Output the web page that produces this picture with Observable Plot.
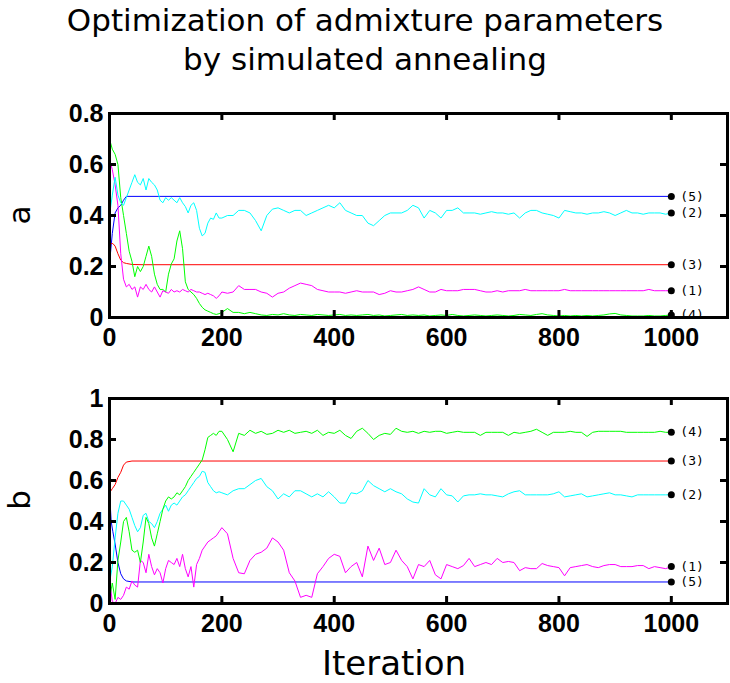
<!DOCTYPE html>
<html>
<head>
<meta charset="utf-8">
<script src="https://cdn.jsdelivr.net/npm/d3@7"></script>
<script src="https://cdn.jsdelivr.net/npm/@observablehq/plot@0.6"></script>
<style>
  html, body { margin: 0; padding: 0; background: #fff; }
  body { width: 730px; height: 683px; position: relative; overflow: hidden; }
  #title { position: absolute; left: 0; top: 1px; width: 730px; text-align: center;
           font-family: "DejaVu Sans", sans-serif; font-size: 31px; line-height: 39px; color: #000; }
  .panel { position: absolute; left: 0; }
  .ylab { position: absolute; font-family: "DejaVu Sans", sans-serif; font-size: 31px; line-height: 36px;
          transform: translate(-50%, -50%) rotate(-90deg); color: #000; white-space: nowrap; }
  #xlab { position: absolute; left: 394px; top: 646px; transform: translateX(-50%); white-space: nowrap;
          font-family: "DejaVu Sans", sans-serif; font-size: 34px; line-height: 34px; color: #000; }
</style>
</head>
<body>
<div id="title">Optimization of admixture parameters<br>by simulated annealing</div>
<div id="pa" class="panel" style="top:80px"></div>
<div id="pb" class="panel" style="top:360px"></div>
<div class="ylab" style="left:18.5px; top:215px">a</div>
<div class="ylab" style="left:18.5px; top:500px">b</div>
<div id="xlab">Iteration</div>
<script>
// ---- iterations sampled for the noisy traces ----
const iter = [
  0,5,10,15,20,25,30,35,40,45,
  50,55,60,65,70,75,80,85,90,95,
  100,105,110,115,120,125,130,135,140,145,
  150,155,160,165,170,175,180,185,190,195,
  200,210,220,230,240,250,260,270,280,290,
  300,310,320,330,340,350,360,370,380,390,
  400,410,420,430,440,450,460,470,480,490,
  500,510,520,530,540,550,560,570,580,590,
  600,610,620,630,640,650,660,670,680,690,
  700,710,720,730,740,750,760,770,780,790,
  800,810,820,830,840,850,860,870,880,890,
  900,910,920,930,940,950,960,970,980,990,
  1000
];

// ---- panel a ----
const a1 = [ // magenta (1)
  0.62,0.58,0.52,0.44,0.25,0.15,0.12,0.13,0.11,0.12,
  0.08,0.12,0.11,0.13,0.11,0.10,0.12,0.10,0.08,0.105,
  0.10,0.095,0.11,0.10,0.105,0.10,0.11,0.105,0.10,0.11,
  0.105,0.10,0.10,0.095,0.09,0.095,0.09,0.085,0.075,0.085,
  0.10,0.095,0.10,0.125,0.11,0.11,0.11,0.10,0.095,0.08,
  0.095,0.10,0.115,0.125,0.135,0.13,0.125,0.11,0.105,0.10,
  0.10,0.10,0.095,0.10,0.105,0.10,0.10,0.10,0.09,0.095,
  0.105,0.10,0.10,0.105,0.11,0.12,0.11,0.10,0.10,0.11,
  0.105,0.105,0.105,0.11,0.11,0.11,0.105,0.10,0.10,0.105,
  0.10,0.105,0.105,0.105,0.11,0.105,0.105,0.105,0.105,0.105,
  0.105,0.11,0.105,0.105,0.105,0.105,0.105,0.105,0.105,0.105,
  0.105,0.105,0.105,0.105,0.105,0.105,0.11,0.105,0.105,0.105,
  0.105
];
const a2 = [ // cyan (2)
  0.40,0.48,0.55,0.48,0.45,0.44,0.47,0.50,0.53,0.56,
  0.53,0.52,0.545,0.50,0.545,0.53,0.52,0.50,0.46,0.45,
  0.47,0.46,0.47,0.46,0.45,0.47,0.45,0.435,0.41,0.44,
  0.45,0.42,0.35,0.32,0.33,0.37,0.39,0.385,0.41,0.39,
  0.39,0.40,0.40,0.42,0.42,0.41,0.38,0.34,0.40,0.425,
  0.43,0.42,0.41,0.42,0.42,0.40,0.41,0.42,0.43,0.44,
  0.43,0.45,0.42,0.41,0.40,0.40,0.37,0.36,0.38,0.40,
  0.41,0.41,0.41,0.42,0.44,0.43,0.39,0.42,0.41,0.39,
  0.42,0.42,0.43,0.41,0.41,0.41,0.405,0.41,0.415,0.41,
  0.41,0.405,0.41,0.39,0.41,0.42,0.42,0.41,0.405,0.40,
  0.39,0.42,0.415,0.41,0.41,0.405,0.41,0.41,0.415,0.41,
  0.40,0.41,0.42,0.41,0.41,0.405,0.41,0.41,0.41,0.405,
  0.41
];
const a4 = [ // green (4)
  0.70,0.66,0.64,0.60,0.47,0.40,0.33,0.26,0.22,0.16,
  0.20,0.18,0.20,0.24,0.28,0.24,0.17,0.13,0.11,0.11,
  0.10,0.17,0.21,0.23,0.30,0.34,0.27,0.14,0.11,0.10,
  0.09,0.075,0.055,0.04,0.03,0.025,0.02,0.015,0.012,0.015,
  0.02,0.035,0.02,0.02,0.015,0.02,0.015,0.01,0.008,0.012,
  0.01,0.015,0.01,0.008,0.012,0.01,0.008,0.012,0.01,0.008,
  0.01,0.012,0.008,0.01,0.008,0.01,0.012,0.008,0.01,0.006,
  0.008,0.01,0.012,0.008,0.01,0.008,0.01,0.006,0.008,0.01,
  0.008,0.012,0.008,0.006,0.008,0.01,0.008,0.006,0.008,0.01,
  0.008,0.006,0.008,0.012,0.01,0.008,0.012,0.015,0.01,0.008,
  0.006,0.008,0.006,0.008,0.006,0.008,0.006,0.008,0.01,0.014,
  0.016,0.01,0.008,0.006,0.006,0.006,0.008,0.006,0.006,0.008,
  0.01
];
const a3Iter = [0,3,6,10,15,20,25,30,40,60,1000];          // red (3)
const a3 = [0.28,0.29,0.29,0.28,0.25,0.225,0.215,0.212,0.208,0.207,0.207];
const a5Iter = [0,5,10,15,20,25,30,1000];                   // blue (5)
const a5 = [0.21,0.33,0.41,0.43,0.44,0.46,0.475,0.475];

// ---- panel b ----
const b1 = [ // magenta (1)
  0.12,0.01,0.00,0.03,0.02,0.04,0.08,0.07,0.11,0.09,
  0.08,0.21,0.20,0.15,0.24,0.18,0.14,0.17,0.15,0.10,
  0.17,0.21,0.20,0.19,0.22,0.18,0.24,0.17,0.13,0.18,
  0.08,0.19,0.22,0.26,0.28,0.30,0.31,0.32,0.33,0.35,
  0.37,0.34,0.22,0.15,0.145,0.21,0.24,0.25,0.27,0.32,
  0.30,0.26,0.15,0.11,0.03,0.04,0.03,0.145,0.18,0.22,
  0.24,0.23,0.15,0.18,0.20,0.13,0.28,0.21,0.27,0.19,
  0.20,0.26,0.21,0.18,0.12,0.19,0.18,0.21,0.14,0.12,
  0.19,0.18,0.17,0.185,0.22,0.18,0.19,0.20,0.19,0.22,
  0.20,0.205,0.20,0.16,0.175,0.17,0.17,0.195,0.185,0.18,
  0.175,0.135,0.175,0.18,0.185,0.19,0.18,0.175,0.185,0.19,
  0.19,0.18,0.18,0.18,0.185,0.185,0.17,0.18,0.175,0.17,
  0.18
];
const b2 = [ // cyan (2)
  0.10,0.18,0.32,0.44,0.50,0.50,0.48,0.46,0.42,0.38,
  0.35,0.37,0.43,0.44,0.40,0.39,0.37,0.40,0.44,0.46,
  0.48,0.45,0.48,0.49,0.48,0.50,0.52,0.53,0.55,0.57,
  0.59,0.61,0.62,0.645,0.64,0.59,0.57,0.55,0.54,0.545,
  0.54,0.53,0.55,0.56,0.56,0.58,0.60,0.61,0.57,0.55,
  0.51,0.535,0.52,0.55,0.55,0.535,0.52,0.535,0.52,0.545,
  0.52,0.49,0.49,0.54,0.535,0.55,0.60,0.575,0.56,0.545,
  0.56,0.545,0.535,0.51,0.495,0.49,0.56,0.53,0.52,0.56,
  0.53,0.525,0.495,0.525,0.53,0.53,0.535,0.53,0.53,0.525,
  0.52,0.535,0.545,0.55,0.53,0.53,0.53,0.53,0.53,0.535,
  0.545,0.52,0.525,0.53,0.535,0.52,0.525,0.53,0.535,0.54,
  0.53,0.53,0.525,0.52,0.53,0.53,0.53,0.53,0.53,0.53,
  0.53
];
const b4 = [ // green (4)
  0.02,0.10,0.02,0.21,0.30,0.40,0.42,0.35,0.26,0.25,
  0.26,0.20,0.30,0.42,0.39,0.32,0.28,0.34,0.40,0.46,
  0.50,0.52,0.51,0.52,0.54,0.53,0.55,0.57,0.60,0.62,
  0.64,0.66,0.68,0.70,0.75,0.81,0.82,0.83,0.82,0.84,
  0.84,0.80,0.74,0.83,0.82,0.845,0.83,0.84,0.825,0.83,
  0.845,0.835,0.845,0.83,0.835,0.84,0.83,0.845,0.82,0.835,
  0.83,0.845,0.82,0.805,0.84,0.855,0.83,0.80,0.82,0.83,
  0.825,0.855,0.84,0.835,0.84,0.83,0.84,0.835,0.84,0.84,
  0.83,0.835,0.84,0.835,0.835,0.835,0.82,0.835,0.835,0.835,
  0.835,0.82,0.835,0.83,0.835,0.84,0.85,0.835,0.82,0.835,
  0.835,0.835,0.84,0.835,0.835,0.815,0.835,0.84,0.84,0.84,
  0.84,0.84,0.835,0.835,0.835,0.835,0.835,0.835,0.84,0.835,
  0.835
];
const b3Iter = [0,5,10,15,20,25,30,40,1000];                // red (3)
const b3 = [0.54,0.56,0.58,0.615,0.64,0.675,0.69,0.695,0.695];
const b5Iter = [0,3,6,10,15,20,25,30,40,1000];              // blue (5)
const b5 = [0.55,0.40,0.35,0.29,0.20,0.145,0.12,0.11,0.105,0.105];

// ---- labels, colours, ticks ----
const seriesLabels = ["(1)", "(2)", "(3)", "(4)", "(5)"];
const seriesColors = ["#ff00ff", "#00ffff", "#ff0000", "#00ff00", "#0000ff"];
const xTicks = [0, 200, 400, 600, 800, 1000];
const yTicksA = [0, 0.2, 0.4, 0.6, 0.8];
const yTicksB = [0, 0.2, 0.4, 0.6, 0.8, 1];

function rows(xs, ys) { return xs.map((x, i) => ({x, y: ys[i]})); }

const TICK = 7; // inward tick length (px)

function panel({traces, yMax, yTicks, marginTop, marginBottom, height}) {
  const width = 730, marginLeft = 109, marginRight = 3;
  const innerH = height - marginTop - marginBottom;
  const innerW = width - marginLeft - marginRight;
  const lines = traces.map((t) =>
    Plot.line(rows(t.x, t.y), {x: "x", y: "y", stroke: seriesColors[t.k], strokeWidth: 1}));
  const ends = traces.map((t) => ({
    x: t.x[t.x.length - 1], y: t.y[t.y.length - 1], label: seriesLabels[t.k]
  }));
  const inner = yTicks.slice(1, -1);
  const innerX = xTicks.slice(1);
  return Plot.plot({
    width, height, marginLeft, marginRight, marginTop, marginBottom,
    style: {fontFamily: "'Liberation Sans', Arial, sans-serif", fontSize: "25px", fontWeight: "bold",
            color: "#000", background: "transparent", overflow: "visible"},
    x: {domain: [0, 1100]},
    y: {domain: [0, yMax]},
    marks: [
      ...lines,
      Plot.dot(ends, {x: "x", y: "y", r: 3.5, fill: "#000", stroke: "none", clip: true}),
      Plot.text(ends, {x: "x", y: "y", text: "label", dx: 9, textAnchor: "start",
        fontFamily: "'DejaVu Sans Mono', monospace", fontSize: 13, fontWeight: "normal", fill: "#000", clip: true}),
      // inward ticks on all four sides
      Plot.tickX(innerX, {x: (d) => d, insetTop: innerH - TICK, stroke: "#000", strokeWidth: 3}),
      Plot.tickX(innerX, {x: (d) => d, insetBottom: innerH - TICK, stroke: "#000", strokeWidth: 3}),
      Plot.tickY(inner, {y: (d) => d, insetRight: innerW - TICK, stroke: "#000", strokeWidth: 3}),
      Plot.tickY(inner, {y: (d) => d, insetLeft: innerW - TICK, stroke: "#000", strokeWidth: 3}),
      // tick labels
      Plot.axisX(xTicks, {anchor: "bottom", tickSize: 0, tickPadding: 11, label: null, tickFormat: (d) => String(d)}),
      Plot.axisY(yTicks, {anchor: "left", tickSize: 0, tickPadding: 6, label: null, tickFormat: (d) => String(d)}),
      Plot.frame({stroke: "#000", strokeWidth: 3})
    ]
  });
}

document.getElementById("pa").append(panel({
  traces: [
    {k: 4, x: a5Iter, y: a5},
    {k: 2, x: a3Iter, y: a3},
    {k: 3, x: iter, y: a4},
    {k: 0, x: iter, y: a1},
    {k: 1, x: iter, y: a2}
  ],
  yMax: 0.8, yTicks: yTicksA, marginTop: 33, marginBottom: 43, height: 280
}));

document.getElementById("pb").append(panel({
  traces: [
    {k: 4, x: b5Iter, y: b5},
    {k: 2, x: b3Iter, y: b3},
    {k: 0, x: iter, y: b1},
    {k: 1, x: iter, y: b2},
    {k: 3, x: iter, y: b4}
  ],
  yMax: 1, yTicks: yTicksB, marginTop: 38, marginBottom: 37, height: 280
}));
</script>
</body>
</html>
